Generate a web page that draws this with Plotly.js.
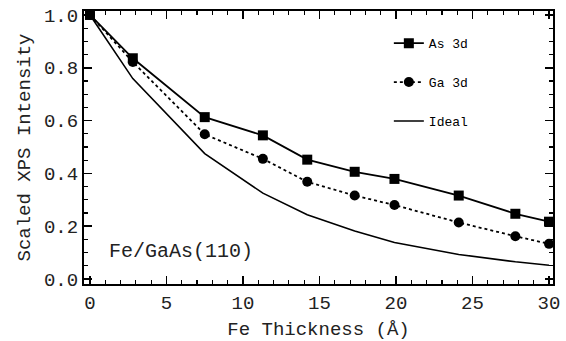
<!DOCTYPE html>
<html>
<head>
<meta charset="utf-8">
<script src="https://cdn.plot.ly/plotly-3.0.1.min.js"></script>
<style>html,body{margin:0;padding:0;background:#fff;}#chart{width:566px;height:341px;}</style>
</head>
<body>
<div id="chart"></div>
<script>
// Fe thickness (Å)
const thickness = [0, 2.8, 7.5, 11.3, 14.2, 17.3, 19.9, 24.1, 27.8, 30.0];
// Scaled XPS intensities
const as3d  = [1.0, 0.836, 0.613, 0.544, 0.452, 0.406, 0.379, 0.316, 0.247, 0.217];
const ga3d  = [1.0, 0.822, 0.548, 0.455, 0.368, 0.316, 0.280, 0.214, 0.162, 0.133];
const ideal = [1.0, 0.759, 0.475, 0.325, 0.243, 0.182, 0.138, 0.093, 0.065, 0.052];
const seriesNames = ["As 3d", "Ga 3d", "Ideal"];

const FONT = '"Liberation Mono", "DejaVu Sans Mono", Courier, monospace';

const traces = [
  {x: thickness, y: as3d, name: seriesNames[0], legendgroup: 'a', mode: 'lines+markers',
   line: {color: '#000', width: 1.8}, marker: {symbol: 'square', size: 10, color: '#000'}},
  {x: thickness, y: ga3d, name: seriesNames[1], legendgroup: 'b', mode: 'lines+markers',
   line: {color: '#000', width: 1.8, dash: 'dot'}, marker: {symbol: 'circle', size: 10, color: '#000'}},
  {x: thickness, y: ideal, name: seriesNames[2], legendgroup: 'c', mode: 'lines',
   line: {color: '#000', width: 1.6}}
];

const axisCommon = {
  showgrid: false, zeroline: false, showline: true, linecolor: '#000', linewidth: 2,
  mirror: 'allticks', ticks: 'inside', ticklen: 8, tickwidth: 1.5, tickcolor: '#000',
  tickfont: {family: FONT, size: 19, color: '#222'}
};

const layout = {
  width: 566, height: 341,
  margin: {l: 84, r: 13, t: 11, b: 57},
  paper_bgcolor: '#fff', plot_bgcolor: '#fff',
  font: {family: FONT, color: '#222'},
  xaxis: Object.assign({}, axisCommon, {
    range: [-0.39, 30.26], tickmode: 'linear', tick0: 0, dtick: 5,
    minor: {dtick: 1, ticks: 'inside', ticklen: 4, tickwidth: 1.2, tickcolor: '#000'},
    title: {text: 'Fe Thickness (Å)', font: {family: FONT, size: 19, color: '#222'}, standoff: 14}
  }),
  yaxis: Object.assign({}, axisCommon, {
    range: [-0.019, 1.015], tickmode: 'linear', tick0: 0, dtick: 0.2, tickformat: '.1f',
    minor: {dtick: 0.05, ticks: 'inside', ticklen: 4, tickwidth: 1.2, tickcolor: '#000'},
    title: {text: 'Scaled XPS Intensity', font: {family: FONT, size: 19, color: '#222'}, standoff: 8}
  }),
  legend: {
    x: 0.65, y: 0.937, xanchor: 'left', yanchor: 'top',
    bgcolor: 'rgba(0,0,0,0)', borderwidth: 0,
    font: {family: FONT, size: 13, color: '#000'},
    tracegroupgap: 19, itemwidth: 30
  },
  showlegend: true,
  annotations: [{
    text: 'Fe/GaAs(110)', x: 1.1, y: 0.103, xref: 'x', yref: 'y',
    xanchor: 'left', yanchor: 'middle', showarrow: false,
    font: {family: FONT, size: 20, color: '#222'}
  }]
};

Plotly.newPlot('chart', traces, layout, {displayModeBar: false, staticPlot: true});
</script>
</body>
</html>
